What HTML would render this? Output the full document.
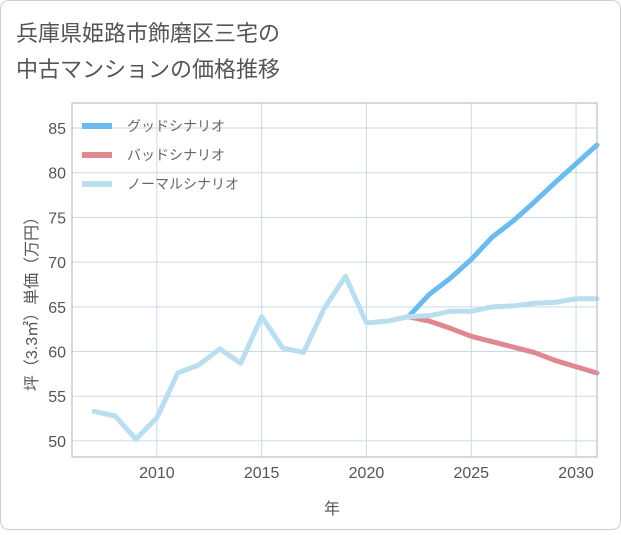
<!DOCTYPE html>
<html><head><meta charset="utf-8"><style>
body{margin:0;background:#fff;}
#wrap{position:relative;width:621px;height:530px;font-family:"Liberation Sans","Noto Sans CJK JP",sans-serif;}
</style></head><body>
<div id="wrap">
<svg id="svg" width="621" height="530" xmlns="http://www.w3.org/2000/svg">
<rect x="0.5" y="0.5" width="620" height="529" rx="8" fill="#fff" stroke="#cfcfcf"/>
<text x="16" y="41" font-size="22" fill="#555">兵庫県姫路市飾磨区三宅の</text>
<text x="16" y="77" font-size="22" fill="#555">中古マンションの価格推移</text>
<g id="grid"></g><g id="lines"></g><g id="axes"></g>
<text x="332" y="514" font-size="16" fill="#555" text-anchor="middle">年</text>
<text transform="translate(37,300) rotate(-90)" font-size="16" fill="#555" text-anchor="middle">坪（3.3㎡）単価（万円）</text>
<g id="legend"></g>
</svg></div>
<script>
const years=[2007,2008,2009,2010,2011,2012,2013,2014,2015,2016,2017,2018,2019,2020,2021,2022];
const history=[53.3,52.8,50.2,52.6,57.6,58.5,60.3,58.7,63.9,60.4,59.9,64.9,68.4,63.2,63.4,63.9];
const futureYears=[2022,2023,2024,2025,2026,2027,2028,2029,2030,2031];
const good=[63.9,66.4,68.2,70.3,72.8,74.6,76.7,78.9,81.0,83.1];
const bad=[63.9,63.4,62.6,61.7,61.1,60.5,59.9,59.0,58.3,57.6];
const normal=[63.9,64.0,64.5,64.5,65.0,65.1,65.4,65.5,65.9,65.9];
const xTicks=[2010,2015,2020,2025,2030];
const yTicks=[50,55,60,65,70,75,80,85];
const legendLabels=["グッドシナリオ","バッドシナリオ","ノーマルシナリオ"];
const L=72,R=597,T=103,B=457,x0=2005.95,x1=2031,y0=48.2,y1=87.8;
const X=v=>L+(v-x0)/(x1-x0)*(R-L), Y=v=>B-(v-y0)/(y1-y0)*(B-T);
const NS="http://www.w3.org/2000/svg";
function mk(p,t,a){const e=document.createElementNS(NS,t);for(const k in a)e.setAttribute(k,a[k]);document.getElementById(p).appendChild(e);return e;}
xTicks.forEach(v=>{const l=mk('grid','line',{x1:X(v),x2:X(v),y1:T,y2:B,stroke:'#c9d9e6'});

const t=mk('axes','text',{x:X(v),y:B+21,'font-size':16,fill:'#555','text-anchor':'middle'});t.textContent=v;
});
yTicks.forEach(v=>{const l=mk('grid','line',{x1:L,x2:R,y1:Y(v),y2:Y(v),stroke:'#c9d9e6'});

const t=mk('axes','text',{x:L-6,y:Y(v)+6,'font-size':16,fill:'#555','text-anchor':'end'});t.textContent=v;
});
const fr=mk('axes','rect',{x:L,y:T,width:R-L,height:B-T,fill:'none',stroke:'#a8b4c0'});

function line(xs,ys,c,n){const p=mk('lines','polyline',{points:xs.map((v,i)=>X(v)+','+Y(ys[i])).join(' '),fill:'none',stroke:c,'stroke-width':5,'stroke-linejoin':'round','stroke-linecap':'round'});
}
line(futureYears,good,'#6cbbef','good-scenario-line');
line(futureYears,bad,'#e08890','bad-scenario-line');
line(futureYears,normal,'#b9def0','normal-scenario-line');
line(years,history,'#b9def0','history-line');
const cols=['#6cbbef','#e08890','#b9def0'];
legendLabels.forEach((s,i)=>{const y=126+i*29;
const r=mk('legend','rect',{x:82,y:y-3,width:30,height:6,fill:cols[i]});

const t=mk('legend','text',{x:127,y:y+5,'font-size':14,fill:'#666'});t.textContent=s;
});
</script></body></html>
